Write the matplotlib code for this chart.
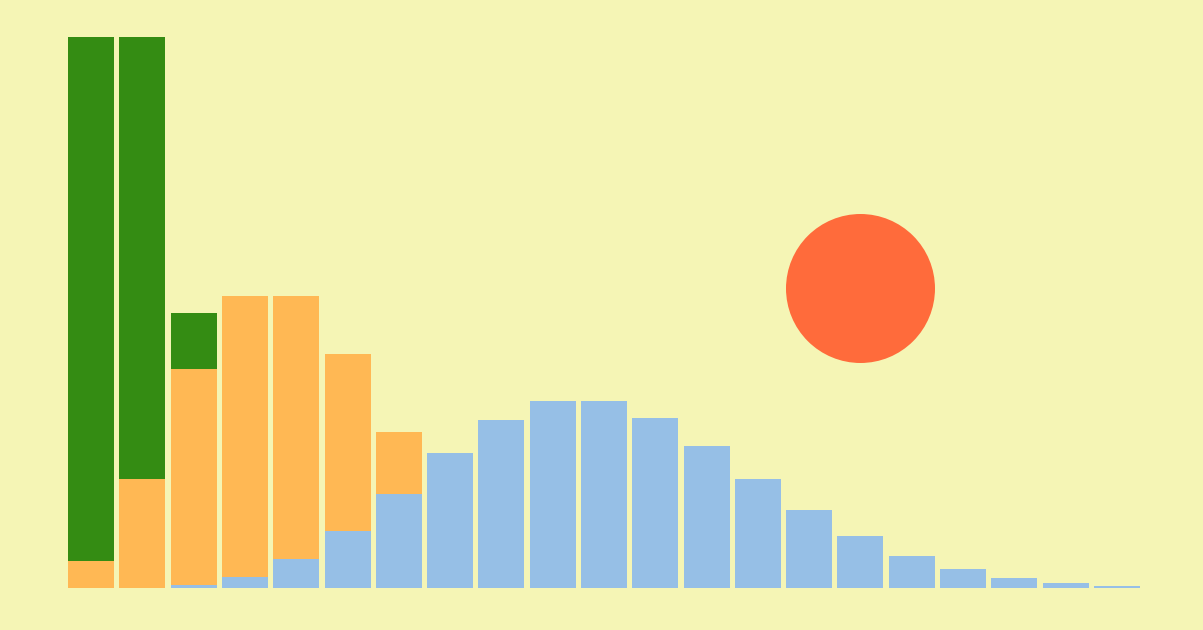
import matplotlib
matplotlib.use("Agg")
import matplotlib.pyplot as plt
from matplotlib.patches import Ellipse
import numpy as np

# Stacked bar heights (pixel-height units above baseline)
categories = list(range(1, 22))
blue = [0, 0, 3, 11, 29, 57, 94, 135, 168, 187, 187, 170, 142, 109, 78, 52, 32, 19, 10, 5, 2]
orange = [27, 109, 216, 281, 263, 177, 62, 0, 0, 0, 0, 0, 0, 0, 0, 0, 0, 0, 0, 0, 0]
green = [524, 442, 56, 0, 0, 0, 0, 0, 0, 0, 0, 0, 0, 0, 0, 0, 0, 0, 0, 0, 0]

BG = "#F5F5B5"
W, H = 1203, 630
fig = plt.figure(figsize=(W / 100, H / 100), dpi=100, facecolor=BG)
ax = fig.add_axes([0, 0, 1, 1])
ax.set_facecolor(BG)

x = np.arange(len(categories))
pitch = 51.3
c0 = 91.0
ax.set_xlim(-c0 / pitch, (W - c0) / pitch)
ax.set_ylim(-42, H - 42)

b = np.array(blue)
o = np.array(orange)
g = np.array(green)
bw = 46 / pitch
ax.bar(x, b, width=bw, color="#96BFE6", linewidth=0)
ax.bar(x, o, width=bw, bottom=b, color="#FFB854", linewidth=0)
ax.bar(x, g, width=bw, bottom=b + o, color="#348C13", linewidth=0)

sun = Ellipse((860.5 / W, 1 - 288.5 / H), 149 / W, 149 / H,
              transform=ax.transAxes, color="#FF6B3B", linewidth=0)
ax.add_patch(sun)

ax.axis("off")
fig.savefig("out.png", dpi=100, facecolor=BG)
